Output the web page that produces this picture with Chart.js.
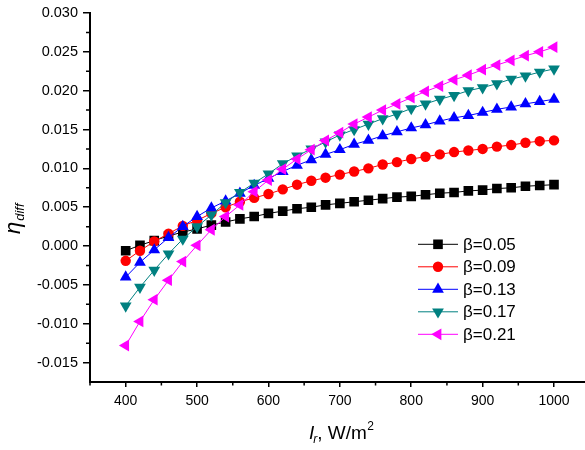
<!DOCTYPE html>
<html>
<head>
<meta charset="utf-8">
<script src="https://cdn.jsdelivr.net/npm/chart.js@4.4.0/dist/chart.umd.min.js"></script>
<style>
  html, body { margin: 0; padding: 0; background: #fff; overflow: hidden; width: 585px; height: 450px; }
  canvas { display: block; }
</style>
</head>
<body>
<canvas id="chart" width="592" height="450"></canvas>
<script>
// Irradiance values (W/m2)
const irradiance = [400, 420, 440, 460, 480, 500, 520, 540, 560, 580, 600, 620, 640, 660, 680, 700,
                    720, 740, 760, 780, 800, 820, 840, 860, 880, 900, 920, 940, 960, 980, 1000];

// eta_diff for each beta
const beta005 = [-0.0006, 0.0001, 0.0007, 0.0013, 0.0018, 0.0022, 0.0027, 0.0031, 0.0035, 0.0038, 0.0042,
                 0.0045, 0.0048, 0.0050, 0.0053, 0.0055, 0.0057, 0.0059, 0.0061, 0.0063, 0.0064,
                 0.0066, 0.0068, 0.0069, 0.0071, 0.0072, 0.0074, 0.0075, 0.0077, 0.0078, 0.0079];
const beta009 = [-0.0019, -0.0006, 0.0006, 0.0016, 0.0026, 0.0033, 0.0042, 0.0050, 0.0057, 0.0062, 0.0067,
                 0.0073, 0.0079, 0.0084, 0.0088, 0.0092, 0.0096, 0.0100, 0.0105, 0.0108, 0.0112,
                 0.0115, 0.0118, 0.0121, 0.0123, 0.0125, 0.0128, 0.0130, 0.0133, 0.0135, 0.0136];
const beta013 = [-0.0040, -0.0021, -0.0005, 0.0011, 0.0025, 0.0038, 0.0049, 0.0058, 0.0068, 0.0078, 0.0087,
                 0.0096, 0.0104, 0.0111, 0.0118, 0.0124, 0.0131, 0.0136, 0.0142, 0.0147, 0.0152,
                 0.0156, 0.0161, 0.0165, 0.0168, 0.0172, 0.0176, 0.0179, 0.0183, 0.0186, 0.0189];
const beta017 = [-0.0077, -0.0053, -0.0031, -0.0010, 0.0009, 0.0025, 0.0040, 0.0056, 0.0069, 0.0081, 0.0093,
                 0.0106, 0.0116, 0.0125, 0.0134, 0.0143, 0.0150, 0.0157, 0.0164, 0.0170, 0.0177,
                 0.0183, 0.0189, 0.0194, 0.0200, 0.0204, 0.0209, 0.0215, 0.0219, 0.0224, 0.0228];
const beta021 = [-0.0128, -0.0097, -0.0069, -0.0044, -0.0020, 0.0001, 0.0021, 0.0038, 0.0053, 0.0070, 0.0085,
                 0.0099, 0.0112, 0.0124, 0.0136, 0.0146, 0.0157, 0.0166, 0.0175, 0.0183, 0.0191,
                 0.0199, 0.0206, 0.0214, 0.0220, 0.0227, 0.0233, 0.0239, 0.0245, 0.0250, 0.0256];

const seriesLabels = ['β=0.05', 'β=0.09', 'β=0.13', 'β=0.17', 'β=0.21'];

// Axis ticks
const xTickValues = [400, 500, 600, 700, 800, 900, 1000];
const xMinorTicks = [350, 450, 550, 650, 750, 850, 950];
const yTickValues = [-0.015, -0.010, -0.005, 0.000, 0.005, 0.010, 0.015, 0.020, 0.025, 0.030];
const yMinorTicks = [-0.0125, -0.0075, -0.0025, 0.0025, 0.0075, 0.0125, 0.0175, 0.0225, 0.0275];

const FONT = "'Liberation Sans', Arial, sans-serif";

function toPoints(values) {
    return values.map((v, i) => ({ x: irradiance[i], y: v }));
}

function makeSeries(label, values, color, style, rotation, radius, order) {
    return {
        label: label,
        data: toPoints(values),
        borderColor: color,
        backgroundColor: color,
        borderWidth: 1,
        pointStyle: style,
        rotation: rotation,
        pointRadius: radius,
        pointBorderWidth: 0,
        pointBackgroundColor: color,
        pointBorderColor: color,
        order: order
    };
}

const datasets = [
    makeSeries(seriesLabels[0], beta005, '#000000', 'rect', 0, 6.8, 4),
    makeSeries(seriesLabels[1], beta009, '#ff0000', 'circle', 0, 5.2, 3),
    makeSeries(seriesLabels[2], beta013, '#0000ff', 'triangle', 0, 6.8, 2),
    makeSeries(seriesLabels[3], beta017, '#008080', 'triangle', 180, 6.8, 1),
    makeSeries(seriesLabels[4], beta021, '#ff00ff', 'triangle', -90, 6.8, 0)
];

// Minor ticks, axis titles and legend
const extrasPlugin = {
    id: 'extras',
    afterDraw(chart) {
        const ctx = chart.ctx;
        const xs = chart.scales.x;
        const ys = chart.scales.y;
        const area = chart.chartArea;

        ctx.save();
        ctx.strokeStyle = '#000';
        ctx.lineWidth = 1.5;
        ctx.beginPath();
        xMinorTicks.forEach(v => {
            const px = xs.getPixelForValue(v);
            ctx.moveTo(px, area.bottom);
            ctx.lineTo(px, area.bottom + 3.5);
        });
        yMinorTicks.forEach(v => {
            const py = ys.getPixelForValue(v);
            ctx.moveTo(area.left, py);
            ctx.lineTo(area.left - 4, py);
        });
        ctx.stroke();

        // x title: I_r, W/m^2
        ctx.fillStyle = '#000';
        ctx.textBaseline = 'alphabetic';
        ctx.textAlign = 'left';
        let x = 309;
        const base = 439;
        ctx.font = 'italic 19px ' + FONT;
        ctx.fillText('I', x, base);
        x += ctx.measureText('I').width;
        ctx.font = 'italic 12px ' + FONT;
        ctx.fillText('r', x - 1, base + 4);
        x += ctx.measureText('r').width - 1;
        ctx.font = '19px ' + FONT;
        ctx.fillText(', W/m', x, base);
        x += ctx.measureText(', W/m').width;
        ctx.font = '12px ' + FONT;
        ctx.fillText('2', x + 0.5, base - 9);

        // y title: eta_diff
        ctx.save();
        ctx.translate(20, 234);
        ctx.rotate(-Math.PI / 2);
        ctx.font = 'italic 22px ' + FONT;
        ctx.fillText('η', 0, 0);
        const w = ctx.measureText('η').width;
        ctx.font = 'italic 13px ' + FONT;
        ctx.fillText('diff', w + 1, 4);
        ctx.restore();

        // legend
        const legendX = 438;
        const legendY = 244.3;
        const rowGap = 22.5;
        chart.data.datasets.forEach((ds, i) => {
            const y = legendY + i * rowGap;
            ctx.strokeStyle = ds.borderColor;
            ctx.lineWidth = 1;
            ctx.beginPath();
            ctx.moveTo(legendX - 20, y);
            ctx.lineTo(legendX + 20, y);
            ctx.stroke();
            ctx.fillStyle = ds.pointBackgroundColor;
            ctx.strokeStyle = ds.pointBorderColor;
            Chart.helpers.drawPoint(ctx, {
                pointStyle: ds.pointStyle,
                rotation: ds.rotation,
                radius: ds.pointRadius,
                borderWidth: 0
            }, legendX, y);
            ctx.fillStyle = '#000';
            ctx.font = '17px ' + FONT;
            ctx.textBaseline = 'middle';
            ctx.fillText(ds.label, legendX + 25, y + 1);
        });
        ctx.restore();
    }
};

const ctx = document.getElementById('chart').getContext('2d');
const chart = new Chart(ctx, {
    type: 'line',
    data: { datasets: datasets },
    options: {
        responsive: false,
        animation: false,
        layout: { padding: { top: 13, right: 0, left: 0, bottom: 0 } },
        plugins: {
            legend: { display: false },
            tooltip: { enabled: false }
        },
        scales: {
            x: {
                type: 'linear',
                position: 'bottom',
                min: 350,
                max: 1043.7,
                afterBuildTicks: scale => { scale.ticks = xTickValues.map(v => ({ value: v })); },
                afterFit: scale => {
                    scale.height = 68;
                    scale.paddingLeft = 0;
                    scale.paddingRight = 0;
                },
                border: { display: true, color: '#000', width: 2 },
                grid: { drawOnChartArea: false, drawTicks: true, tickLength: 5, color: '#000', lineWidth: 1.5 },
                ticks: {
                    color: '#000',
                    font: { family: FONT, size: 14 },
                    padding: 6,
                    autoSkip: false,
                    maxRotation: 0,
                    callback: v => String(v)
                }
            },
            y: {
                type: 'linear',
                position: 'left',
                min: -0.0175,
                max: 0.030,
                afterBuildTicks: scale => { scale.ticks = yTickValues.map(v => ({ value: v })); },
                afterFit: scale => {
                    scale.width = 90;
                    scale.paddingTop = 0;
                    scale.paddingBottom = 0;
                },
                border: { display: true, color: '#000', width: 2 },
                grid: { drawOnChartArea: false, drawTicks: true, tickLength: 7, color: '#000', lineWidth: 1.5 },
                ticks: {
                    color: '#000',
                    font: { family: FONT, size: 14.5 },
                    padding: 5,
                    autoSkip: false,
                    callback: v => v.toFixed(3)
                }
            }
        }
    },
    plugins: [extrasPlugin]
});
</script>
</body>
</html>
